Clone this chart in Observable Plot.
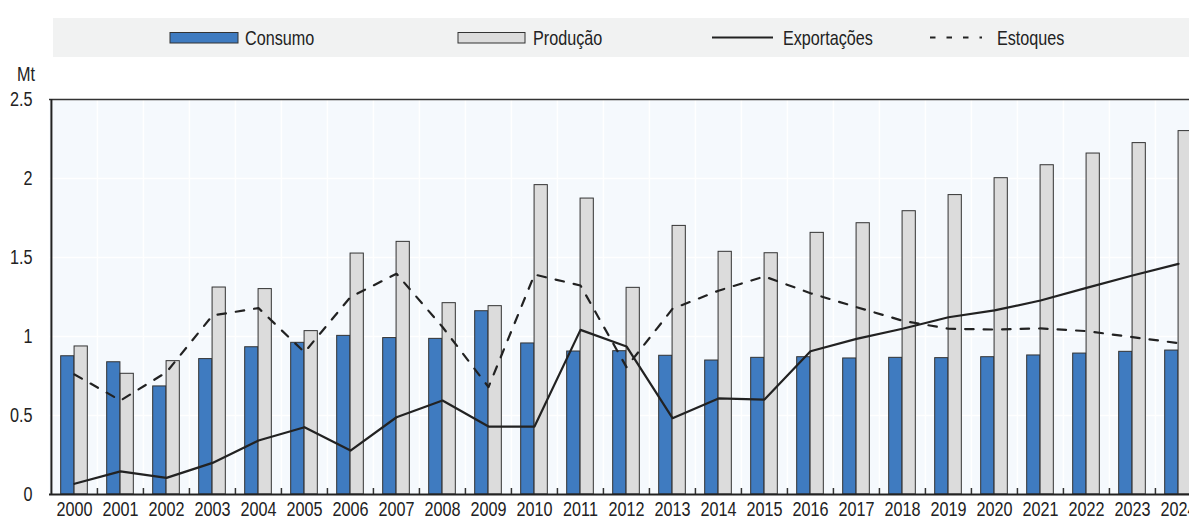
<!DOCTYPE html>
<html>
<head>
<meta charset="utf-8">
<script src="https://cdn.jsdelivr.net/npm/d3@7"></script>
<script src="https://cdn.jsdelivr.net/npm/@observablehq/plot@0.6"></script>
<style>
  html, body { margin: 0; padding: 0; background: #fff; overflow: hidden; }
  #wrap { position: relative; width: 1189px; height: 519px; overflow: hidden; }
  #chart { position: absolute; left: 0; top: 0; }
  #chart svg { max-width: none !important; }
  #overlay { position: absolute; left: 0; top: 0; }
  .lbl { font-family: "Liberation Sans Narrow", "Arial Narrow", "Liberation Sans", sans-serif; font-size: 19.5px; fill: #222; }
</style>
</head>
<body>
<div id="wrap">
  <div id="chart"></div>
  <svg id="overlay" width="1189" height="95"></svg>
</div>
<script>
const years = [2000,2001,2002,2003,2004,2005,2006,2007,2008,2009,2010,2011,2012,2013,2014,2015,2016,2017,2018,2019,2020,2021,2022,2023,2024];
const consumo = [0.875,0.837,0.684,0.857,0.932,0.96,1.004,0.99,0.985,1.16,0.956,0.905,0.907,0.878,0.848,0.865,0.869,0.861,0.865,0.863,0.869,0.88,0.892,0.903,0.911];
const producao = [0.937,0.764,0.844,1.31,1.30,1.034,1.525,1.599,1.211,1.192,1.958,1.873,1.308,1.70,1.536,1.527,1.656,1.717,1.793,1.895,2.002,2.084,2.158,2.224,2.30];
const exportacoes = [0.068,0.146,0.105,0.20,0.342,0.426,0.278,0.489,0.595,0.43,0.43,1.042,0.937,0.483,0.608,0.601,0.907,0.985,1.049,1.122,1.165,1.228,1.308,1.386,1.46];
const estoques = [0.76,0.595,0.774,1.133,1.18,0.90,1.25,1.397,1.06,0.68,1.392,1.323,0.806,1.175,1.29,1.38,1.274,1.186,1.10,1.049,1.044,1.051,1.034,0.996,0.958];
const seriesNames = ["Consumo", "Produção", "Exportações", "Estoques"];
const yTicks = [0, 0.5, 1, 1.5, 2, 2.5];
const unitLabel = "Mt";

const data = years.map((year, i) => ({
  year, consumo: consumo[i], producao: producao[i],
  exportacoes: exportacoes[i], estoques: estoques[i]
}));

const FONT = '"Liberation Sans Narrow", "Arial Narrow", "Liberation Sans", sans-serif';
const NARROW = 0.83;
const BLUE = "#3f7bc0";
const GREY = "#dcdcdc";
const DARK = "#222";

const width = 1203, height = 519, mL = 49, mR = 0, mT = 99, mB = 25;
const step = (width - mL - mR) / years.length;
const half = step / 2;
const barW = 13.4;
const plotH = height - mT - mB;

const chart = Plot.plot({
  width, height,
  marginLeft: mL, marginRight: mR, marginTop: mT, marginBottom: mB,
  style: { fontFamily: FONT, fontSize: "19.5px", color: DARK, background: "#fff" },
  x: { type: "band", domain: years, padding: 0, tickSize: 0, tickPadding: 7.5, tickFormat: d => String(d), label: null },
  y: { domain: [0, 2.5], ticks: yTicks, tickSize: 0, tickPadding: 17, tickFormat: d => String(d), label: null },
  marks: [
    Plot.frame({ fill: "#f5f9fd", stroke: null }),
    Plot.ruleY(yTicks, { stroke: "#fff", strokeWidth: 1.5 }),
    Plot.ruleX(years, { x: d => d, dx: -half, stroke: "#fff", strokeWidth: 1.5 }),
    Plot.barY(data, { x: "year", y: "consumo", fill: BLUE, stroke: "#333", strokeWidth: 1, insetLeft: half - barW, insetRight: half }),
    Plot.barY(data, { x: "year", y: "producao", fill: GREY, stroke: "#333", strokeWidth: 1, insetLeft: half, insetRight: half - barW }),
    Plot.line(data, { x: "year", y: "estoques", stroke: DARK, strokeWidth: 2.2, strokeDasharray: "8.5,10" }),
    Plot.line(data, { x: "year", y: "exportacoes", stroke: DARK, strokeWidth: 2.2 }),
    Plot.ruleX(years.slice(1), { x: d => d, dx: -half, stroke: "#333", strokeWidth: 1.5, insetTop: plotH - 6 }),
    Plot.ruleY([2.5], { stroke: "#333", strokeWidth: 1.5 }),
    Plot.ruleY([0], { stroke: DARK, strokeWidth: 2 }),
    Plot.ruleX([years[0]], { x: d => d, dx: -half, stroke: DARK, strokeWidth: 2 })
  ]
});
document.getElementById("chart").appendChild(chart);

// condense the tick labels horizontally (no narrow font installed)
chart.querySelectorAll("text").forEach(t => {
  const len = t.getComputedTextLength();
  if (len > 0) {
    t.setAttribute("textLength", (len * NARROW).toFixed(2));
    t.setAttribute("lengthAdjust", "spacingAndGlyphs");
  }
});

// Legend + unit label
const ov = d3.select("#overlay");
ov.append("rect").attr("x", 53).attr("y", 18).attr("width", 1150).attr("height", 39).attr("fill", "#f1f2f2");
const legendItems = [
  { name: seriesNames[0], kind: "bar", fill: BLUE, x0: 170, x1: 238, tx: 245 },
  { name: seriesNames[1], kind: "bar", fill: GREY, x0: 458, x1: 525, tx: 533 },
  { name: seriesNames[2], kind: "line", dash: null, x0: 712, x1: 773, tx: 783 },
  { name: seriesNames[3], kind: "line", dash: "5.5,11", x0: 930, x1: 982, tx: 997 }
];
for (const it of legendItems) {
  if (it.kind === "bar") {
    ov.append("rect").attr("x", it.x0).attr("y", 32.5).attr("width", it.x1 - it.x0).attr("height", 10.5)
      .attr("fill", it.fill).attr("stroke", "#333").attr("stroke-width", 1);
  } else {
    ov.append("line").attr("x1", it.x0).attr("x2", it.x1).attr("y1", 37.5).attr("y2", 37.5)
      .attr("stroke", DARK).attr("stroke-width", 2.2).attr("stroke-dasharray", it.dash);
  }
  ov.append("text").attr("class", "lbl").attr("transform", `translate(${it.tx},45) scale(${NARROW},1)`).text(it.name);
}
ov.append("text").attr("class", "lbl").attr("transform", `translate(17,81) scale(${NARROW},1)`).text(unitLabel);
</script>
</body>
</html>
